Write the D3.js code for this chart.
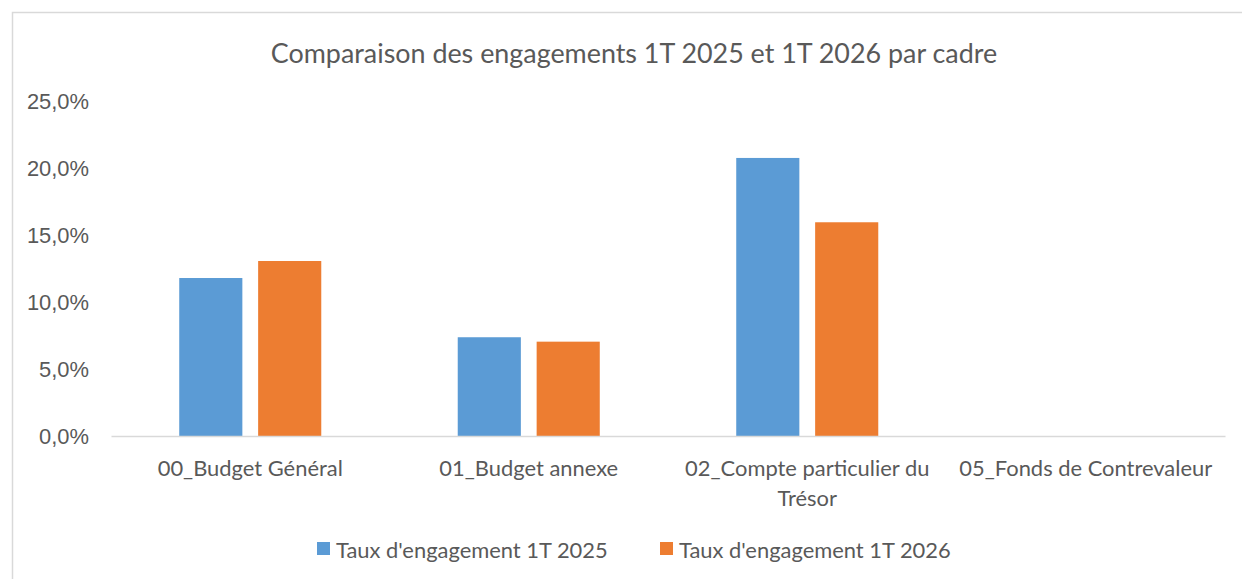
<!DOCTYPE html>
<html>
<head>
<meta charset="utf-8">
<script src="https://cdn.jsdelivr.net/npm/d3@7"></script>
<style>
  html, body { margin: 0; padding: 0; background: #fff; }
  svg { display: block; font-family: Lato, "Open Sans", sans-serif; }
</style>
</head>
<body>
<svg id="chart" width="1242" height="579"></svg>
<script>
'use strict';

const title = 'Comparaison des engagements 1T 2025 et 1T 2026 par cadre';
const categories = [
	['00_Budget Général'],
	['01_Budget annexe'],
	['02_Compte particulier du', 'Trésor'],
	['05_Fonds de Contrevaleur']
];
const seriesNames = ['Taux d\'engagement 1T 2025', 'Taux d\'engagement 1T 2026'];
const rate2025 = [0.1179, 0.0737, 0.2075, 0];
const rate2026 = [0.1306, 0.0704, 0.1595, 0];
const yTicks = [0, 0.05, 0.10, 0.15, 0.20, 0.25];

const colors = ['#5B9BD5', '#ED7D31'],
	textColor = '#595959',
	lineColor = '#D9D9D9';

const svg = d3.select('#chart');

// frame of the chart area (right and bottom edges fall outside the picture)
svg.append('rect')
	.attr('x', 12.5).attr('y', 12.5)
	.attr('width', 1300).attr('height', 700)
	.attr('fill', '#fff')
	.attr('stroke', lineColor)
	.attr('stroke-width', 1.5);

// pick a font size so that a sample string takes a given width
const fitSize = (text, target, base) => {
	let t = svg.append('text').attr('font-size', base).text(text),
		w = t.node().getComputedTextLength();
	t.remove();
	return base * target / w;
};
const titleSize = fitSize(title, 727, 24),
	labelSize = fitSize(seriesNames[0], 272, 18);

const data = categories.map((c, i) => ({ key: i, label: c, values: [rate2025[i], rate2026[i]] }));

const x0 = d3.scaleBand()
	.domain(data.map(d => d.key))
	.range([111, 1225])
	.paddingInner(0.49)
	.paddingOuter(0.245);
const x1 = d3.scaleBand()
	.domain([0, 1])
	.range([0, x0.bandwidth()])
	.paddingInner(0.2);
const y = d3.scaleLinear()
	.domain([0, 0.25])
	.range([436, 101]);

const pct = d3.formatLocale({ decimal: ',', thousands: ' ', grouping: [3], currency: ['', ' €'] }).format('.1%');

// title
svg.append('text')
	.attr('x', 634).attr('y', 52)
	.attr('text-anchor', 'middle')
	.attr('dominant-baseline', 'central')
	.attr('font-size', titleSize)
	.attr('fill', textColor)
	.text(title);

// y axis, labels only
const yAxis = svg.append('g')
	.attr('transform', 'translate(89,0)')
	.call(d3.axisLeft(y).tickValues(yTicks).tickFormat(pct).tickSize(0).tickPadding(0));
yAxis.select('.domain').remove();
yAxis.selectAll('text')
	.attr('font-size', labelSize)
	.attr('font-family', null)
	.attr('fill', textColor);

// bars
const groups = svg.append('g').selectAll('g').data(data).enter().append('g')
	.attr('transform', d => `translate(${x0(d.key)},0)`);
groups.selectAll('rect').data(d => d.values.map((v, s) => ({ s, v }))).enter().append('rect')
	.attr('x', d => x1(d.s))
	.attr('y', d => y(d.v))
	.attr('width', x1.bandwidth())
	.attr('height', d => y(0) - y(d.v))
	.attr('fill', d => colors[d.s]);

// x axis
const xAxis = svg.append('g')
	.attr('transform', `translate(0,${y(0)})`)
	.call(d3.axisBottom(x0).tickSize(0).tickFormat(''));
xAxis.select('.domain')
	.attr('stroke', lineColor)
	.attr('stroke-width', 1.5);

const catLabels = svg.append('g').selectAll('text').data(data).enter().append('text')
	.attr('x', d => x0(d.key) + x0.bandwidth() / 2)
	.attr('y', 467)
	.attr('text-anchor', 'middle')
	.attr('font-size', labelSize)
	.attr('fill', textColor);
catLabels.selectAll('tspan').data(d => d.label).enter().append('tspan')
	.attr('x', function () { return this.parentNode.getAttribute('x'); })
	.attr('y', (d, i) => 467 + i * 30)
	.attr('dominant-baseline', 'central')
	.text(d => d);

// legend
const legendX = [317, 660];
const legend = svg.append('g').selectAll('g').data(seriesNames).enter().append('g')
	.attr('transform', (d, i) => `translate(${legendX[i]},549)`);
legend.append('rect')
	.attr('x', 0).attr('y', -7)
	.attr('width', 13).attr('height', 13)
	.attr('fill', (d, i) => colors[i]);
legend.append('text')
	.attr('x', 19)
	.attr('dominant-baseline', 'central')
	.attr('font-size', labelSize)
	.attr('fill', textColor)
	.text(d => d);
</script>
</body>
</html>
